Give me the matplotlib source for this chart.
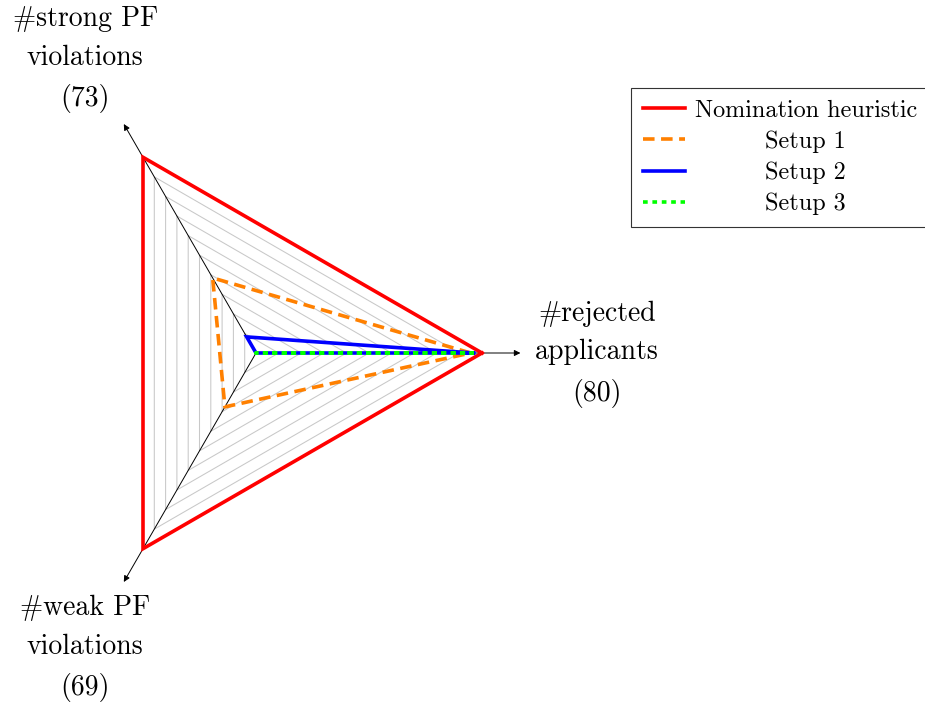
import numpy as np
import matplotlib.pyplot as plt
from matplotlib.lines import Line2D

plt.rcParams['font.family'] = 'cmr10'
plt.rcParams['mathtext.fontset'] = 'cm'
plt.rcParams['axes.unicode_minus'] = False

# radar axes: rejected applicants, strong PF violations, weak PF violations
axis_names = ['#rejected\napplicants', '#strong PF\nviolations', '#weak PF\nviolations']
axis_max = [80, 73, 69]

series_names = ['Nomination heuristic', 'Setup 1', 'Setup 2', 'Setup 3']
heuristic = [80, 73, 69]
setup1 = [76, 28, 19]
setup2 = [77, 6, 0]
setup3 = [77, 0, 0]

angles = np.deg2rad([0, 120, 240])


def closed_xy(vals):
    r = np.array(vals, dtype=float) / np.array(axis_max)
    r = np.append(r, r[0])
    a = np.append(angles, angles[0])
    return r * np.cos(a), r * np.sin(a)


fig = plt.figure(figsize=(9.25, 7.02), dpi=100)
ax = fig.add_axes([0, 0, 1, 1])
ax.set_xlim(-256 / 226, (925 - 256) / 226)
ax.set_ylim(-(702 - 353) / 226, 353 / 226)
ax.axis('off')

# concentric grid triangles
for lvl in np.arange(1, 11) / 10:
    gx, gy = closed_xy(np.array(axis_max) * lvl)
    ax.plot(gx, gy, color='#c8c8c8', lw=0.75, zorder=1)

# axis arrows and labels
for ang, name, mx in zip(angles, axis_names, axis_max):
    ax.annotate('', xy=(1.17 * np.cos(ang), 1.17 * np.sin(ang)), xytext=(0, 0),
                arrowprops=dict(arrowstyle='-|>', color='black', lw=0.7,
                                mutation_scale=9, shrinkA=0, shrinkB=0),
                zorder=2)
    ax.text(1.51 * np.cos(ang), 1.505 * np.sin(ang) - 0.005, '%s\n(%d)' % (name, mx),
            ha='center', va='center', fontsize=20, linespacing=1.6)

styles = [
    dict(color='#ff0000', lw=2.6, ls='-'),
    dict(color='#ff8000', lw=2.6, ls=(0, (3.2, 1.8))),
    dict(color='#0000ff', lw=2.6, ls='-'),
    dict(color='#00ff00', lw=2.6, ls=(0, (1.3, 1.3))),
]
handles = []
for vals, name, st in zip([heuristic, setup1, setup2, setup3], series_names, styles):
    x, y = closed_xy(vals)
    ax.plot(x, y, zorder=3, solid_joinstyle='miter', **st)
    handles.append(Line2D([], [], **st))

leg = ax.legend(handles, series_names, loc='upper left',
                bbox_to_anchor=(631 / 925, 1 - 88 / 702), borderaxespad=0,
                fancybox=False, edgecolor='#333333', framealpha=1,
                fontsize=17.4, handlelength=1.75, handletextpad=0.4,
                labelspacing=0.36, borderpad=0.48)
leg.get_frame().set_linewidth(0.8)

# center the shorter legend labels like the original
fig.canvas.draw()
renderer = fig.canvas.get_renderer()
texts = leg.get_texts()
widths = [t.get_window_extent(renderer).width for t in texts]
wmax = max(widths)
for t, w in zip(texts, widths):
    t.set_x((wmax - w) / 2)

fig.savefig('out.png', dpi=100)
